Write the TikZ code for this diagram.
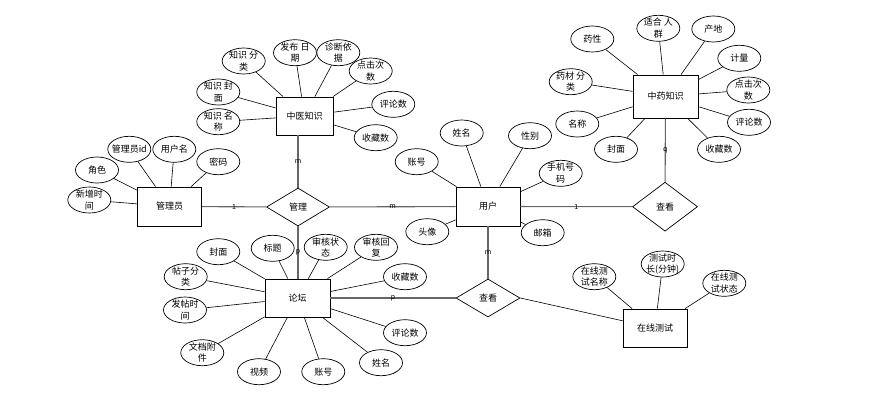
\documentclass[tikz,border=0pt]{standalone}
\usepackage{fontspec}
\setmainfont{Noto Sans CJK SC}
\usetikzlibrary{shapes.geometric}
\begin{document}
\begin{tikzpicture}[x=1pt,y=-1pt,
  every node/.style={font=\fontsize{9}{11.5}\selectfont},
  ent/.style={draw, fill=white, line width=0.8pt, inner sep=0pt},
  attr/.style={ellipse, draw, line width=0.7pt, fill=white, minimum width=43pt, minimum height=26pt, inner xsep=-4pt, inner ysep=-6pt, align=center},
  rel/.style={diamond, draw, line width=0.7pt, fill=white, inner sep=0pt, aspect=1.6},
  conn/.style={draw=black, line width=0.6pt},
  rline/.style={draw=black!60, line width=1.1pt},
  card/.style={font=\fontsize{7}{8}\selectfont, inner sep=1pt}
]
\path[use as bounding box] (0,0) rectangle (874,400);

% entities
\node[ent, minimum width=57pt, minimum height=38pt] (zy) at (304.5,116) {中医知识};
\node[ent, minimum width=64pt, minimum height=39pt] (admin) at (169.5,206.5) {管理员};
\node[ent, minimum width=64pt, minimum height=39pt] (user) at (488,206.5) {用户};
\node[ent, minimum width=65pt, minimum height=43pt] (zyao) at (665.5,96.5) {中药知识};
\node[ent, minimum width=65pt, minimum height=38pt] (lt) at (297.5,298) {论坛};
\node[ent, minimum width=64pt, minimum height=38pt] (test) at (655,328) {在线测试};

% relationships
\node[rel, minimum width=63pt, minimum height=38pt] (gl) at (298,207) {管理};
\node[rel, minimum width=65pt, minimum height=49pt] (ck1) at (665,206.7) {查看};
\node[rel, minimum width=64pt, minimum height=38pt] (ck2) at (488,298) {查看};

% relationship connectors
\draw[rline] (admin) -- node[card]{1} (gl);
\draw[rline] (gl) -- node[card]{m} (user);
\draw[rline] (user) -- node[card]{1} (ck1);
\draw[rline] (zy.south -| gl.north) -- node[card]{m} (gl.north);
\draw[rline] (gl.south) -- node[card]{p} (gl.south |- lt.north);
\draw[rline] (zyao) -- node[card]{q} (ck1);
\draw[rline] (user) -- node[card]{m} (ck2);
\draw[rline] (lt) -- node[card]{p} (ck2);
\draw[conn] (ck2.east) -- (test);

% 中医知识 attributes
\node[attr] (a1) at (243.7,61) {知识 分\\类};
\node[attr] (a2) at (295,52.7) {发布 日\\期};
\node[attr] (a3) at (338.3,52.7) {诊断依\\据};
\node[attr] (a4) at (370.7,71) {点击次\\数};
\node[attr] (a5) at (393.3,104.3) {评论数};
\node[attr] (a6) at (375.7,137.7) {收藏数};
\node[attr] (a7) at (218.3,92) {知识 封\\面};
\node[attr] (a8) at (218.3,121.7) {知识 名\\称};
\foreach \a in {a1,a2,a3,a4,a5,a6,a7,a8} \draw[conn] (\a) -- (zy);

% 管理员 attributes
\node[attr] (b1) at (129.3,149.3) {管理员id};
\node[attr] (b2) at (174.3,149.3) {用户名};
\node[attr] (b3) at (218.3,161.7) {密码};
\node[attr] (b4) at (97,170) {角色};
\node[attr] (b5) at (89.3,200) {新增时\\间};
\foreach \a in {b1,b2,b3,b4,b5} \draw[conn] (\a) -- (admin);

% 用户 attributes
\node[attr] (c1) at (461.7,133) {姓名};
\node[attr] (c2) at (530,135.7) {性别};
\node[attr] (c3) at (416.7,161.7) {账号};
\node[attr] (c4) at (560.7,173.3) {手机号\\码};
\node[attr] (c5) at (427.3,231.7) {头像};
\node[attr] (c6) at (542.7,232.7) {邮箱};
\foreach \a in {c1,c2,c3,c4,c5,c6} \draw[conn] (\a) -- (user);

% 中药知识 attributes
\node[attr] (d1) at (592.3,39) {药性};
\node[attr] (d2) at (658.3,28.3) {适合 人\\群};
\node[attr] (d3) at (713.3,29) {产地};
\node[attr] (d4) at (739.3,58.3) {计量};
\node[attr] (d5) at (748.3,90) {点击次\\数};
\node[attr] (d6) at (749,122.3) {评论数};
\node[attr] (d7) at (719,149.3) {收藏数};
\node[attr] (d8) at (616,149.3) {封面};
\node[attr] (d9) at (577.3,124) {名称};
\node[attr] (d10) at (570.7,81.7) {药材 分\\类};
\foreach \a in {d1,d2,d3,d4,d5,d6,d7,d8,d9,d10} \draw[conn] (\a) -- (zyao);

% 论坛 attributes
\node[attr] (e1) at (218.3,251.7) {封面};
\node[attr] (e2) at (272.7,248.3) {标题};
\node[attr] (e3) at (325.7,247.3) {审核状\\态};
\node[attr] (e4) at (376,247.3) {审核回\\复};
\node[attr] (e5) at (405,276.7) {收藏数};
\node[attr] (e6) at (405,332.7) {评论数};
\node[attr] (e7) at (381,362.7) {姓名};
\node[attr] (e8) at (323.3,371.7) {账号};
\node[attr] (e9) at (259,371.7) {视频};
\node[attr] (e10) at (202.3,352.7) {文档附\\件};
\node[attr] (e11) at (185,310) {发帖时\\间};
\node[attr] (e12) at (185.7,276.7) {帖子分\\类};
\foreach \a in {e1,e2,e3,e4,e5,e6,e7,e8,e9,e10,e11,e12} \draw[conn] (\a) -- (lt);

% 在线测试 attributes
\node[attr] (f1) at (594.3,276.7) {在线测\\试名称};
\node[attr] (f2) at (662.7,264) {测试时\\长(分钟)};
\node[attr] (f3) at (724.3,283.3) {在线测\\试状态};
\foreach \a in {f1,f2,f3} \draw[conn] (\a) -- (test);
\end{tikzpicture}
\end{document}
